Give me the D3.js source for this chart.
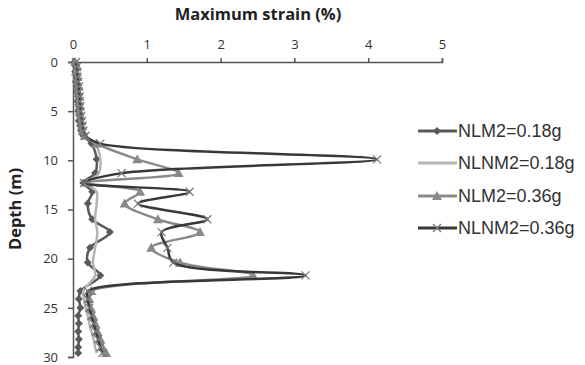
<!DOCTYPE html>
<html>
<head>
<meta charset="utf-8">
<script src="https://cdn.jsdelivr.net/npm/d3@7"></script>
<style>
  body { margin: 0; background: #fff; }
  .tick text { font-family: "Open Sans", sans-serif; font-size: 13px; fill: #333; }
  .axis path, .axis line { stroke: #555; stroke-width: 1.5; }
</style>
</head>
<body>
<div class="chart"></div>
<script>
// Data
var depth = [0, 0.5, 1, 1.5, 2, 2.5, 3, 3.5, 4, 4.5, 5, 5.5, 6, 6.5, 7, 7.5, 8.3, 9.9, 11.3, 12.3, 13.2, 14.4, 16.0, 17.3, 18.9, 20.4, 21.7, 23.3, 24.1, 25.0, 25.8, 26.6, 27.4, 28.2, 29.0, 29.6];
var nlm2_018 = [0.02, 0.04, 0.03, 0.05, 0.04, 0.06, 0.05, 0.07, 0.06, 0.08, 0.07, 0.09, 0.08, 0.10, 0.11, 0.14, 0.25, 0.32, 0.30, 0.14, 0.26, 0.20, 0.26, 0.50, 0.23, 0.20, 0.37, 0.10, 0.08, 0.10, 0.07, 0.08, 0.07, 0.08, 0.07, 0.07];
var nlnm2_018 = [0.03, 0.04, 0.05, 0.05, 0.06, 0.06, 0.07, 0.07, 0.08, 0.08, 0.09, 0.09, 0.10, 0.11, 0.12, 0.15, 0.30, 0.37, 0.35, 0.20, 0.32, 0.32, 0.30, 0.33, 0.30, 0.27, 0.30, 0.14, 0.15, 0.17, 0.20, 0.22, 0.25, 0.28, 0.30, 0.32];
var nlm2_036 = [0.03, 0.05, 0.04, 0.06, 0.06, 0.07, 0.07, 0.08, 0.08, 0.09, 0.09, 0.10, 0.11, 0.12, 0.13, 0.16, 0.32, 0.87, 1.43, 0.20, 0.91, 0.70, 1.15, 1.72, 1.06, 1.45, 2.44, 0.25, 0.22, 0.24, 0.27, 0.30, 0.33, 0.37, 0.40, 0.45];
var nlnm2_036 = [0.04, 0.05, 0.06, 0.06, 0.07, 0.08, 0.08, 0.09, 0.09, 0.10, 0.10, 0.11, 0.12, 0.13, 0.14, 0.17, 0.37, 4.12, 0.66, 0.15, 1.58, 0.88, 1.82, 1.20, 1.28, 1.36, 3.15, 0.20, 0.20, 0.22, 0.25, 0.28, 0.31, 0.34, 0.37, 0.40];
var seriesNames = ["NLM2=0.18g", "NLNM2=0.18g", "NLM2=0.36g", "NLNM2=0.36g"];
var xTicks = [0, 1, 2, 3, 4, 5];
var yTicks = [0, 5, 10, 15, 20, 25, 30];

var series = [
  {name: seriesNames[0], values: nlm2_018, color: "#5a5a5a", marker: "diamond", mcolor: "#5a5a5a"},
  {name: seriesNames[1], values: nlnm2_018, color: "#b4b4b4", marker: "none", mcolor: "#b4b4b4"},
  {name: seriesNames[2], values: nlm2_036, color: "#8a8a8a", marker: "triangle", mcolor: "#8a8a8a"},
  {name: seriesNames[3], values: nlnm2_036, color: "#383838", marker: "cross", mcolor: "#7a7a7a"}
];

var svgWidth = 585, svgHeight = 365;
var plot = {left: 73, right: 442, top: 62, bottom: 357};

var svg = d3.select(".chart").append("svg")
  .attr("width", svgWidth)
  .attr("height", svgHeight);

var x = d3.scaleLinear().domain([0, 5]).range([plot.left, plot.right]);
var y = d3.scaleLinear().domain([0, 30]).range([plot.top, plot.bottom]);

// axes
svg.append("g")
  .attr("class", "axis")
  .attr("transform", `translate(0, ${plot.top})`)
  .call(d3.axisTop(x).tickValues(xTicks).tickFormat(d3.format("d")).tickSize(4).tickPadding(9).tickSizeOuter(4))
  .selectAll("text").attr("dy", "0");

svg.append("g")
  .attr("class", "axis")
  .attr("transform", `translate(${plot.left}, 0)`)
  .call(d3.axisLeft(y).tickValues(yTicks).tickFormat(d3.format("d")).tickSize(5).tickPadding(10).tickSizeOuter(5));

// titles
svg.append("text")
  .attr("x", 258).attr("y", 20)
  .attr("text-anchor", "middle")
  .style("font-family", "'Open Sans', sans-serif")
  .style("font-weight", "bold")
  .style("font-size", "16.5px")
  .style("fill", "#222")
  .text("Maximum strain (%)");

svg.append("text")
  .attr("transform", "translate(21, 209) rotate(-90)")
  .attr("text-anchor", "middle")
  .style("font-family", "'Open Sans', sans-serif")
  .style("font-weight", "bold")
  .style("font-size", "16.5px")
  .style("fill", "#222")
  .text("Depth (m)");

// lines
var line = d3.line()
  .x(d => x(d[0]))
  .y(d => y(d[1]))
  .curve(d3.curveCatmullRom.alpha(0.5));

function drawMarker(g, type, cx, cy, color) {
  if (type == "diamond") {
    g.append("path")
      .attr("d", `M${cx},${cy-4}L${cx+4},${cy}L${cx},${cy+4}L${cx-4},${cy}Z`)
      .attr("fill", color);
  } else if (type == "triangle") {
    g.append("path")
      .attr("d", `M${cx},${cy-5}L${cx+5},${cy+4}L${cx-5},${cy+4}Z`)
      .attr("fill", color);
  } else if (type == "cross") {
    g.append("path")
      .attr("d", `M${cx-4},${cy-4}L${cx+4},${cy+4}M${cx-4},${cy+4}L${cx+4},${cy-4}`)
      .attr("stroke", color)
      .attr("stroke-width", 1.3)
      .attr("fill", "none");
  }
}

series.forEach(s => {
  var pts = s.values.map((v, i) => [v, depth[i]]);
  var g = svg.append("g");
  g.append("path")
    .attr("d", line(pts))
    .attr("fill", "none")
    .attr("stroke", s.color)
    .attr("stroke-width", 2.5);
  pts.forEach(p => drawMarker(g, s.marker, x(p[0]), y(p[1]), s.mcolor));
});

// legend
var legendY = [131, 163, 196, 228];
series.forEach((s, i) => {
  var g = svg.append("g");
  var ly = legendY[i];
  g.append("line")
    .attr("x1", 418).attr("x2", 457)
    .attr("y1", ly).attr("y2", ly)
    .attr("stroke", s.color)
    .attr("stroke-width", 3);
  drawMarker(g, s.marker, 437, ly, s.mcolor);
  g.append("text")
    .attr("x", 458).attr("y", ly)
    .attr("dy", "0.35em")
    .style("font-family", "'Liberation Sans', Arial, sans-serif")
    .style("font-size", "18px")
    .style("fill", "#333")
    .text(s.name);
});
</script>
</body>
</html>
